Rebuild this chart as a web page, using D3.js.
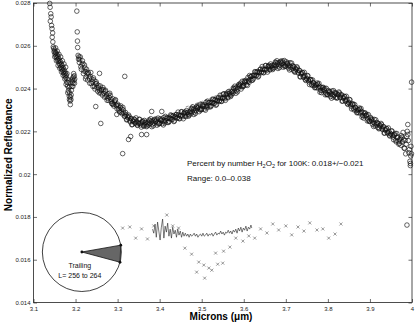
<!DOCTYPE html>
<html>
<head>
<meta charset="utf-8">
<script src="https://cdn.jsdelivr.net/npm/d3@7"></script>
<style>
body { margin: 0; background: #fff; }
svg { display: block; font-family: "Liberation Sans", Arial, sans-serif; }
</style>
</head>
<body>
<svg id="chart" width="415" height="324"></svg>
<script>
var xTicks = [3.1, 3.2, 3.3, 3.4, 3.5, 3.6, 3.7, 3.8, 3.9, 4];
var yTicks = [0.014, 0.016, 0.018, 0.02, 0.022, 0.024, 0.026, 0.028];

// short-wavelength order, 3.14-3.20 um
var order1 = [
  [3.1385,.02798],[3.1395,.02780],[3.1410,.02750],[3.1400,.02715],[3.1420,.02735],[3.1430,.02695],[3.1440,.02680],[3.1445,.02640],
  [3.1455,.02660],[3.1460,.02618],[3.1470,.02595],[3.1480,.02588],[3.1490,.02572],[3.1500,.02580],[3.1510,.02562],[3.1520,.02570],
  [3.1530,.02552],[3.1540,.02566],[3.1550,.02545],[3.1560,.02558],[3.1570,.02535],[3.1580,.02550],[3.1590,.02528],[3.1600,.02540],
  [3.1610,.02518],[3.1620,.02532],[3.1630,.02510],[3.1640,.02525],[3.1650,.02500],[3.1660,.02515],[3.1670,.02492],[3.1680,.02508],
  [3.1690,.02485],[3.1700,.02498],[3.1710,.02475],[3.1720,.02490],[3.1730,.02468],[3.1740,.02482],[3.1750,.02458],[3.1760,.02472],
  [3.1770,.02450],[3.1780,.02462],[3.1790,.02430],[3.1800,.02445],[3.1810,.02412],[3.1820,.02428],[3.1830,.02390],[3.1840,.02405],
  [3.1850,.02365],[3.1860,.02380],[3.1870,.02342],[3.1880,.02360],[3.1890,.02348],[3.1900,.02392],[3.1910,.02410],[3.1920,.02432],
  [3.1930,.02448],[3.1940,.02425],[3.1950,.02455],[3.1960,.02438],[3.1970,.02460],[3.1980,.02445],
  [3.1505,.02548],[3.1525,.02590],[3.1545,.02530],[3.1565,.02575],[3.1585,.02508],[3.1605,.02560],[3.1625,.02495],[3.1645,.02548],
  [3.1665,.02478],[3.1685,.02530],[3.1705,.02462],[3.1725,.02515],[3.1745,.02445],[3.1765,.02500],[3.1775,.02420],[3.1795,.02470],
  [3.1815,.02380],[3.1835,.02440],[3.1855,.02350],[3.1875,.02325],[3.1865,.02410],[3.1895,.02370],[3.1915,.02440],[3.1935,.02410],
  [3.1955,.02470],[3.1975,.02425]
];

// next order, 3.20-3.32 um
var order2 = [
  [3.2030,.02762],[3.2040,.02665],[3.2045,.02622],[3.2050,.02592],[3.2060,.02555],[3.2070,.02538],[3.2080,.02548],[3.2090,.02522],
  [3.2100,.02535],[3.2125,.02502],[3.2150,.02512],[3.2175,.02517],[3.2200,.02482],[3.2225,.02496],[3.2250,.02455],[3.2275,.02471],
  [3.2300,.02476],[3.2325,.02449],[3.2350,.02456],[3.2375,.02424],[3.2400,.02432],[3.2425,.02450],[3.2450,.02410],[3.2475,.02422],
  [3.2500,.02423],[3.2525,.02388],[3.2550,.02403],[3.2575,.02390],[3.2600,.02379],[3.2625,.02396],[3.2650,.02405],[3.2675,.02378],
  [3.2700,.02387],[3.2725,.02362],[3.2750,.02345],[3.2775,.02375],[3.2800,.02359],[3.2825,.02368],[3.2850,.02339],[3.2875,.02328],
  [3.2900,.02326],[3.2925,.02338],[3.2950,.02348],[3.2975,.02319],[3.3000,.02327],[3.3025,.02304],[3.3050,.02289],[3.3075,.02319],
  [3.3100,.02304],[3.3125,.02312],[3.3150,.02285],[3.3175,.02273],
  [3.21125,.02548],[3.21375,.02490],[3.21625,.02530],[3.21875,.02470],[3.22125,.02510],[3.22375,.02445],[3.22625,.02490],[3.22875,.02440],
  [3.23125,.02468],[3.23375,.02425],[3.23625,.02475],[3.23875,.02445],[3.24125,.02410],[3.24375,.02440],[3.24625,.02398],[3.24875,.02432],
  [3.25125,.02405],[3.25375,.02415],[3.25625,.02380],[3.25875,.02412],[3.26125,.02392],[3.26375,.02370],[3.26625,.02395],[3.26875,.02360],
  [3.27125,.02392],[3.27375,.02370],[3.27625,.02355],[3.27875,.02345],[3.28125,.02378],[3.28375,.02350],[3.28625,.02330],[3.28875,.02352],
  [3.29125,.02318],[3.29375,.02345],[3.29625,.02325],[3.29875,.02305],[3.30125,.02320],[3.30375,.02296],[3.30625,.02312],[3.30875,.02290],
  [3.31125,.02282],[3.31375,.02300],[3.31625,.02270],[3.31875,.02288]
];

// main spectrum, 3.32-4.00 um (first set of samples)
var spectrumA = [
  [3.3200,.02278],[3.3225,.02255],[3.3250,.02263],[3.3275,.02269],[3.3300,.02244],[3.3325,.02260],[3.3350,.02232],[3.3375,.02248],
  [3.3400,.02256],[3.3425,.02239],[3.3450,.02248],[3.3475,.02228],[3.3500,.02238],[3.3525,.02256],[3.3550,.02230],[3.3575,.02244],
  [3.3600,.02248],[3.3625,.02224],[3.3650,.02239],[3.3675,.02231],[3.3700,.02226],[3.3725,.02243],[3.3750,.02254],[3.3775,.02237],
  [3.3800,.02247],[3.3825,.02233],[3.3850,.02226],[3.3875,.02253],[3.3900,.02246],[3.3925,.02257],[3.3950,.02240],[3.3975,.02234],
  [3.4000,.02237],[3.4025,.02253],[3.4050,.02257],[3.4075,.02248],[3.4100,.02265],[3.4125,.02239],[3.4150,.02250],[3.4175,.02262],
  [3.4200,.02263],[3.4225,.02247],[3.4250,.02261],[3.4275,.02273],[3.4300,.02255],[3.4325,.02274],[3.4350,.02249],[3.4375,.02268],
  [3.4400,.02279],[3.4425,.02265],[3.4450,.02277],[3.4475,.02259],[3.4500,.02272],[3.4525,.02292],[3.4550,.02269],[3.4575,.02284],
  [3.4600,.02291],[3.4625,.02269],[3.4650,.02286],[3.4675,.02279],[3.4700,.02276],[3.4725,.02294],[3.4750,.02307],[3.4775,.02291],
  [3.4800,.02303],[3.4825,.02290],[3.4850,.02284],[3.4875,.02313],[3.4900,.02307],[3.4925,.02319],[3.4950,.02303],[3.4975,.02299],
  [3.5000,.02303],[3.5025,.02320],[3.5050,.02325],[3.5075,.02317],[3.5100,.02335],[3.5125,.02310],[3.5150,.02321],[3.5175,.02334],
  [3.5200,.02336],[3.5225,.02320],[3.5250,.02335],[3.5275,.02348],[3.5300,.02330],[3.5325,.02349],[3.5350,.02326],[3.5375,.02345],
  [3.5400,.02357],[3.5425,.02344],[3.5450,.02357],[3.5475,.02340],[3.5500,.02354],[3.5525,.02375],[3.5550,.02353],[3.5575,.02370],
  [3.5600,.02378],[3.5625,.02357],[3.5650,.02376],[3.5675,.02371],[3.5700,.02369],[3.5725,.02388],[3.5750,.02403],[3.5775,.02388],
  [3.5800,.02401],[3.5825,.02390],[3.5850,.02385],[3.5875,.02416],[3.5900,.02411],[3.5925,.02425],[3.5950,.02410],[3.5975,.02408],
  [3.6000,.02413],[3.6025,.02432],[3.6050,.02439],[3.6075,.02432],[3.6100,.02452],[3.6125,.02429],[3.6150,.02442],[3.6175,.02456],
  [3.6200,.02460],[3.6225,.02446],[3.6250,.02462],[3.6275,.02477],[3.6300,.02460],[3.6325,.02480],[3.6350,.02458],[3.6375,.02478],
  [3.6400,.02491],[3.6425,.02478],[3.6450,.02491],[3.6475,.02474],[3.6500,.02488],[3.6525,.02508],[3.6550,.02486],[3.6575,.02502],
  [3.6600,.02509],[3.6625,.02487],[3.6650,.02504],[3.6675,.02497],[3.6700,.02494],[3.6725,.02512],[3.6750,.02524],[3.6775,.02508],
  [3.6800,.02519],[3.6825,.02505],[3.6850,.02498],[3.6875,.02525],[3.6900,.02518],[3.6925,.02528],[3.6950,.02510],[3.6975,.02503],
  [3.7000,.02505],[3.7025,.02518],[3.7050,.02519],[3.7075,.02507],[3.7100,.02521],[3.7125,.02491],[3.7150,.02497],[3.7175,.02504],
  [3.7200,.02501],[3.7225,.02479],[3.7250,.02489],[3.7275,.02496],[3.7300,.02472],[3.7325,.02485],[3.7350,.02455],[3.7375,.02468],
  [3.7400,.02474],[3.7425,.02454],[3.7450,.02461],[3.7475,.02438],[3.7500,.02445],[3.7525,.02459],[3.7550,.02431],[3.7575,.02441],
  [3.7600,.02442],[3.7625,.02415],[3.7650,.02426],[3.7675,.02415],[3.7700,.02406],[3.7725,.02418],[3.7750,.02426],[3.7775,.02404],
  [3.7800,.02410],[3.7825,.02392],[3.7850,.02381],[3.7875,.02404],[3.7900,.02393],[3.7925,.02401],[3.7950,.02380],[3.7975,.02372],
  [3.8000,.02371],[3.8025,.02385],[3.8050,.02386],[3.8075,.02375],[3.8100,.02389],[3.8125,.02361],[3.8150,.02369],[3.8175,.02379],
  [3.8200,.02378],[3.8225,.02358],[3.8250,.02370],[3.8275,.02379],[3.8300,.02357],[3.8325,.02371],[3.8350,.02342],[3.8375,.02355],
  [3.8400,.02362],[3.8425,.02342],[3.8450,.02349],[3.8475,.02326],[3.8500,.02333],[3.8525,.02347],[3.8550,.02318],[3.8575,.02327],
  [3.8600,.02328],[3.8625,.02300],[3.8650,.02311],[3.8675,.02298],[3.8700,.02289],[3.8725,.02301],[3.8750,.02309],[3.8775,.02287],
  [3.8800,.02293],[3.8825,.02274],[3.8850,.02262],[3.8875,.02285],[3.8900,.02273],[3.8925,.02279],[3.8950,.02258],[3.8975,.02248],
  [3.9000,.02246],[3.9025,.02258],[3.9050,.02257],[3.9075,.02244],[3.9100,.02256],[3.9125,.02226],[3.9150,.02232],[3.9175,.02239],
  [3.9200,.02236],[3.9225,.02215],[3.9250,.02224],[3.9275,.02232],[3.9300,.02208],[3.9325,.02222],[3.9350,.02192],[3.9375,.02206],
  [3.9400,.02212],[3.9425,.02193],[3.9450,.02200],[3.9475,.02178],[3.9500,.02186],[3.9525,.02201],[3.9550,.02173],[3.9575,.02183],
  [3.9600,.02190],[3.9625,.02151],[3.9650,.02170],[3.9675,.02155],[3.9700,.02144],[3.9725,.02168],[3.9750,.02180],[3.9775,.02150],
  [3.9800,.02160],[3.9825,.02120],[3.9850,.02095],[3.9875,.02175],[3.9900,.02185],[3.9925,.02100],[3.9950,.02060],[3.9975,.02130]
];

// main spectrum, second set of samples
var spectrumB = [
  [3.32125,.02254],[3.32375,.02268],[3.32625,.02276],[3.32875,.02250],[3.33125,.02258],[3.33375,.02231],[3.33625,.02248],[3.33875,.02257],
  [3.34125,.02238],[3.34375,.02263],[3.34625,.02230],[3.34875,.02240],[3.35125,.02256],[3.35375,.02237],[3.35625,.02220],[3.35875,.02245],
  [3.36125,.02228],[3.36375,.02251],[3.36625,.02242],[3.36875,.02222],[3.37125,.02239],[3.37375,.02230],[3.37625,.02250],[3.37875,.02259],
  [3.38125,.02222],[3.38375,.02249],[3.38625,.02238],[3.38875,.02257],[3.39125,.02249],[3.39375,.02229],[3.39625,.02262],[3.39875,.02238],
  [3.40125,.02259],[3.40375,.02250],[3.40625,.02236],[3.40875,.02230],[3.41125,.02248],[3.41375,.02270],[3.41625,.02262],[3.41875,.02242],
  [3.42125,.02242],[3.42375,.02262],[3.42625,.02277],[3.42875,.02257],[3.43125,.02271],[3.43375,.02246],[3.43625,.02267],[3.43875,.02278],
  [3.44125,.02262],[3.44375,.02290],[3.44625,.02260],[3.44875,.02273],[3.45125,.02291],[3.45375,.02275],[3.45625,.02259],[3.45875,.02287],
  [3.46125,.02272],[3.46375,.02297],[3.46625,.02289],[3.46875,.02271],[3.47125,.02290],[3.47375,.02282],[3.47625,.02304],[3.47875,.02314],
  [3.48125,.02279],[3.48375,.02307],[3.48625,.02297],[3.48875,.02317],[3.49125,.02311],[3.49375,.02292],[3.49625,.02326],[3.49875,.02303],
  [3.50125,.02325],[3.50375,.02317],[3.50625,.02304],[3.50875,.02299],[3.51125,.02318],[3.51375,.02341],[3.51625,.02334],[3.51875,.02315],
  [3.52125,.02315],[3.52375,.02336],[3.52625,.02351],[3.52875,.02332],[3.53125,.02346],[3.53375,.02322],[3.53625,.02344],[3.53875,.02356],
  [3.54125,.02340],[3.54375,.02369],[3.54625,.02341],[3.54875,.02355],[3.55125,.02374],[3.55375,.02359],[3.55625,.02345],[3.55875,.02374],
  [3.56125,.02360],[3.56375,.02386],[3.56625,.02380],[3.56875,.02363],[3.57125,.02384],[3.57375,.02377],[3.57625,.02400],[3.57875,.02411],
  [3.58125,.02378],[3.58375,.02407],[3.58625,.02399],[3.58875,.02420],[3.59125,.02416],[3.59375,.02398],[3.59625,.02434],[3.59875,.02412],
  [3.60125,.02436],[3.60375,.02430],[3.60625,.02418],[3.60875,.02415],[3.61125,.02436],[3.61375,.02461],[3.61625,.02455],[3.61875,.02438],
  [3.62125,.02440],[3.62375,.02462],[3.62625,.02479],[3.62875,.02461],[3.63125,.02477],[3.63375,.02454],[3.63625,.02476],[3.63875,.02489],
  [3.64125,.02474],[3.64375,.02503],[3.64625,.02475],[3.64875,.02489],[3.65125,.02507],[3.65375,.02491],[3.65625,.02477],[3.65875,.02505],
  [3.66125,.02490],[3.66375,.02515],[3.66625,.02507],[3.66875,.02489],[3.67125,.02508],[3.67375,.02499],[3.67625,.02521],[3.67875,.02530],
  [3.68125,.02494],[3.68375,.02521],[3.68625,.02510],[3.68875,.02529],[3.69125,.02521],[3.69375,.02500],[3.69625,.02531],[3.69875,.02506],
  [3.70125,.02525],[3.70375,.02513],[3.70625,.02496],[3.70875,.02487],[3.71125,.02501],[3.71375,.02519],[3.71625,.02507],[3.71875,.02483],
  [3.72125,.02477],[3.72375,.02492],[3.72625,.02502],[3.72875,.02477],[3.73125,.02485],[3.73375,.02455],[3.73625,.02470],[3.73875,.02476],
  [3.74125,.02454],[3.74375,.02476],[3.74625,.02442],[3.74875,.02449],[3.75125,.02461],[3.75375,.02439],[3.75625,.02419],[3.75875,.02441],
  [3.76125,.02420],[3.76375,.02440],[3.76625,.02427],[3.76875,.02404],[3.77125,.02417],[3.77375,.02403],[3.77625,.02420],[3.77875,.02424],
  [3.78125,.02383],[3.78375,.02406],[3.78625,.02391],[3.78875,.02406],[3.79125,.02395],[3.79375,.02371],[3.79625,.02401],[3.79875,.02373],
  [3.80125,.02391],[3.80375,.02380],[3.80625,.02363],[3.80875,.02355],[3.81125,.02371],[3.81375,.02390],[3.81625,.02381],[3.81875,.02359],
  [3.82125,.02355],[3.82375,.02372],[3.82625,.02384],[3.82875,.02361],[3.83125,.02370],[3.83375,.02341],[3.83625,.02357],[3.83875,.02364],
  [3.84125,.02342],[3.84375,.02364],[3.84625,.02330],[3.84875,.02337],[3.85125,.02349],[3.85375,.02327],[3.85625,.02305],[3.85875,.02327],
  [3.86125,.02306],[3.86375,.02325],[3.86625,.02311],[3.86875,.02287],[3.87125,.02300],[3.87375,.02286],[3.87625,.02303],[3.87875,.02307],
  [3.88125,.02266],[3.88375,.02288],[3.88625,.02272],[3.88875,.02286],[3.89125,.02274],[3.89375,.02249],[3.89625,.02278],[3.89875,.02249],
  [3.90125,.02265],[3.90375,.02252],[3.90625,.02233],[3.90875,.02223],[3.91125,.02236],[3.91375,.02254],[3.91625,.02242],[3.91875,.02218],
  [3.92125,.02212],[3.92375,.02228],[3.92625,.02237],[3.92875,.02213],[3.93125,.02221],[3.93375,.02192],[3.93625,.02207],[3.93875,.02214],
  [3.94125,.02193],[3.94375,.02216],[3.94625,.02182],[3.94875,.02190],[3.95125,.02202],[3.95375,.02181],[3.95625,.02161],[3.95875,.02184],
  [3.96125,.02158],[3.96375,.02190],[3.96625,.02173],[3.96875,.02140],[3.97125,.02162],[3.97375,.02135],[3.97625,.02172],[3.97875,.02195],
  [3.98125,.02122],[3.98375,.02158],[3.98625,.02140],[3.98875,.02200],[3.99125,.02157],[3.99375,.02115],[3.99625,.02050],[3.99875,.02095]
];

var outliers = [
  [3.2240,.02480],[3.2570,.02471],[3.2600,.02237],[3.2480,.02316],[3.3170,.02457],[3.3120,.02096],
  [3.2980,.02279],[3.3260,.02162],[3.3310,.02176],[3.3570,.02185],[3.3690,.02185],[3.3810,.02293],
  [3.4050,.02293],[3.9990,.02430],[3.9900,.02232],[3.9880,.01762],[3.9960,.02040],[3.9970,.02085]
];

// dashed model curve
var model = [
  [3.462,.02314],[3.48,.02326],[3.50,.02340],[3.52,.02355],[3.54,.02372],[3.56,.02392],[3.58,.02412],
  [3.60,.02432],[3.62,.02452],[3.64,.02472],[3.66,.02490],[3.68,.02504],[3.70,.02510]
];

// residual markers (x)
var residualMarks = [
  [3.312,.01748],[3.329,.01753],[3.343,.01701],[3.357,.01744],[3.371,.01697],[3.386,.01758],[3.417,.01809],
  [3.431,.01758],[3.445,.01748],[3.460,.01654],[3.476,.01626],[3.488,.01542],[3.493,.01589],[3.505,.01575],
  [3.507,.01514],[3.517,.01561],[3.524,.01551],[3.533,.01631],[3.538,.01579],[3.550,.01584],[3.552,.01640],
  [3.567,.01659],[3.581,.01701],[3.598,.01687],[3.612,.01711],[3.626,.01701],[3.640,.01744],[3.655,.01725],
  [3.669,.01767],[3.683,.01739],[3.700,.01758],[3.714,.01716],[3.729,.01753],[3.743,.01734],[3.757,.01772],
  [3.774,.01739],[3.788,.01744],[3.802,.01701],[3.817,.01720],[3.831,.01767]
];

// residual trace
var residualLine = [
  [3.383,.01743],[3.386,.01724],[3.389,.01766],[3.392,.01705],[3.395,.01776],[3.398,.01734],[3.401,.01692],
  [3.404,.01752],[3.407,.01790],[3.410,.01701],[3.413,.01757],[3.416,.01729],[3.419,.01771],[3.422,.01710],
  [3.425,.01743],[3.428,.01701],[3.431,.01752],[3.434,.01720],[3.437,.01738],[3.440,.01705],[3.443,.01743],
  [3.446,.01715],[3.449,.01734],[3.452,.01705],[3.455,.01729],[3.458,.01710],[3.461,.01724],[3.464,.01710],
  [3.467,.01720],[3.470,.01705],[3.473,.01720],[3.476,.01710],[3.479,.01715],[3.482,.01724],[3.485,.01710],
  [3.488,.01720],[3.491,.01705],[3.494,.01715],[3.497,.01720],[3.500,.01710],[3.503,.01724],[3.506,.01710],
  [3.509,.01715],[3.512,.01724],[3.515,.01710],[3.518,.01720],[3.521,.01715],[3.524,.01724],[3.527,.01710],
  [3.530,.01720],[3.533,.01729],[3.536,.01715],[3.539,.01724],[3.542,.01720],[3.545,.01734],[3.548,.01720],
  [3.551,.01729],[3.554,.01715],[3.557,.01729],[3.560,.01724],[3.563,.01738],[3.566,.01724],[3.569,.01734],
  [3.572,.01720],[3.575,.01738],[3.578,.01729],[3.581,.01743],[3.584,.01724],[3.587,.01748],[3.590,.01734],
  [3.593,.01752],[3.596,.01729],[3.599,.01748],[3.602,.01738],[3.605,.01757],[3.608,.01734],[3.611,.01752],
  [3.614,.01743],[3.617,.01762],[3.619,.01748]
];

// longitude inset
var insetCenter = [3.215, 0.01636];
var insetRadius = 39.5;
var wedgeAngles = [-10, 15];
var insetLabels = ["Trailing", "L= 256 to 264"];

var svg = d3.select("#chart");
var x = d3.scaleLinear().domain([3.1, 4]).range([33.5, 412]);
var y = d3.scaleLinear().domain([0.014, 0.028]).range([302.5, 3]);

// axes: ticks point inward on all four sides
var fmtX = function(d) { return d === 4 ? "4" : d.toFixed(1); };
var fmtY = function(d) { return d === 0.02 ? "0.02" : d.toFixed(3); };

var gB = svg.append("g").attr("transform", "translate(0," + y(0.014) + ")")
  .call(d3.axisBottom(x).tickValues(xTicks).tickSizeInner(-3.5).tickSizeOuter(0).tickPadding(4).tickFormat(fmtX));
var gT = svg.append("g").attr("transform", "translate(0," + y(0.028) + ")")
  .call(d3.axisTop(x).tickValues(xTicks).tickSizeInner(-3.5).tickSizeOuter(0).tickFormat(""));
var gL = svg.append("g").attr("transform", "translate(" + x(3.1) + ",0)")
  .call(d3.axisLeft(y).tickValues(yTicks).tickSizeInner(-3.5).tickSizeOuter(0).tickPadding(3).tickFormat(fmtY));
var gR = svg.append("g").attr("transform", "translate(" + x(4) + ",0)")
  .call(d3.axisRight(y).tickValues(yTicks).tickSizeInner(-3.5).tickSizeOuter(0).tickFormat(""));

[gB, gT, gL, gR].forEach(function(g) {
  g.select(".domain").remove();
  g.selectAll("line").attr("stroke", "#333").attr("stroke-width", 0.7);
  g.selectAll("text").attr("font-size", "6px").attr("fill", "#222")
    .attr("font-family", "'Liberation Sans', Arial, sans-serif");
});

svg.append("rect")
  .attr("x", x(3.1)).attr("y", y(0.028))
  .attr("width", x(4) - x(3.1)).attr("height", y(0.014) - y(0.028))
  .attr("fill", "none").attr("stroke", "#222").attr("stroke-width", 0.8);

// model curve (dashed)
var line = d3.line().x(function(d) { return x(d[0]); }).y(function(d) { return y(d[1]); });
svg.append("path").datum(model).attr("d", line)
  .attr("fill", "none").attr("stroke", "#777").attr("stroke-width", 0.8).attr("stroke-dasharray", "3,2");

// data circles
var allPoints = order1.concat(order2, spectrumA, spectrumB, outliers);
svg.append("g").selectAll("circle")
  .data(allPoints)
  .enter().append("circle")
    .attr("cx", function(d) { return x(d[0]); })
    .attr("cy", function(d) { return y(d[1]); })
    .attr("r", 2.3)
    .attr("fill", "none")
    .attr("stroke", "#111")
    .attr("stroke-width", 0.65);

// residuals
svg.append("path").datum(residualLine).attr("d", line)
  .attr("fill", "none").attr("stroke", "#222").attr("stroke-width", 0.6);

svg.append("g").selectAll("path")
  .data(residualMarks)
  .enter().append("path")
    .attr("transform", function(d) { return "translate(" + x(d[0]) + "," + y(d[1]) + ")"; })
    .attr("d", "M-1.5,-1.5L1.5,1.5M-1.5,1.5L1.5,-1.5")
    .attr("stroke", "#555").attr("stroke-width", 0.6);

// inset: longitude wedge
var cx = x(insetCenter[0]), cy = y(insetCenter[1]);
var inset = svg.append("g");
inset.append("circle").attr("cx", cx).attr("cy", cy).attr("r", insetRadius)
  .attr("fill", "#fff").attr("stroke", "#111").attr("stroke-width", 0.8);
var tips = wedgeAngles.map(function(a) {
  var r = a * Math.PI / 180;
  return [cx + insetRadius * Math.cos(r), cy + insetRadius * Math.sin(r)];
});
var wedge = [[cx, cy], tips[0], tips[1]];
inset.append("path").attr("d", "M" + wedge.join("L") + "Z")
  .attr("fill", "#666").attr("stroke", "#111").attr("stroke-width", 0.8);
inset.selectAll("circle.dot").data(wedge).enter().append("circle")
  .attr("class", "dot").attr("cx", function(d) { return d[0]; }).attr("cy", function(d) { return d[1]; })
  .attr("r", 1.4).attr("fill", "#111");
inset.selectAll("text").data(insetLabels).enter().append("text")
  .attr("x", cx - 2).attr("y", function(d, i) { return cy + 16 + i * 10; })
  .attr("text-anchor", "middle").attr("font-size", "7px").attr("fill", "#111")
  .text(function(d) { return d; });

// annotation
var note = svg.append("text").attr("x", x(3.465)).attr("y", y(0.02038))
  .attr("font-size", "8px").attr("fill", "#111");
note.append("tspan").text("Percent by number H");
note.append("tspan").attr("font-size", "5.5px").attr("dy", 2).text("2");
note.append("tspan").attr("dy", -2).text("O");
note.append("tspan").attr("font-size", "5.5px").attr("dy", 2).text("2");
note.append("tspan").attr("dy", -2).text(" for 100K: 0.018+/\u22120.021");

svg.append("text").attr("x", x(3.465)).attr("y", y(0.01968))
  .attr("font-size", "8px").attr("fill", "#111")
  .text("Range: 0.0\u20130.038");

// axis titles
svg.append("text")
  .attr("transform", "translate(12," + ((y(0.014) + y(0.028)) / 2 + 2) + ") rotate(-90)")
  .attr("text-anchor", "middle").attr("font-size", "10px").attr("font-weight", "bold")
  .text("Normalized Reflectance");

svg.append("text")
  .attr("x", 221).attr("y", 320)
  .attr("text-anchor", "middle").attr("font-size", "10px").attr("font-weight", "bold")
  .text("Microns (\u03bcm)");
</script>
</body>
</html>
